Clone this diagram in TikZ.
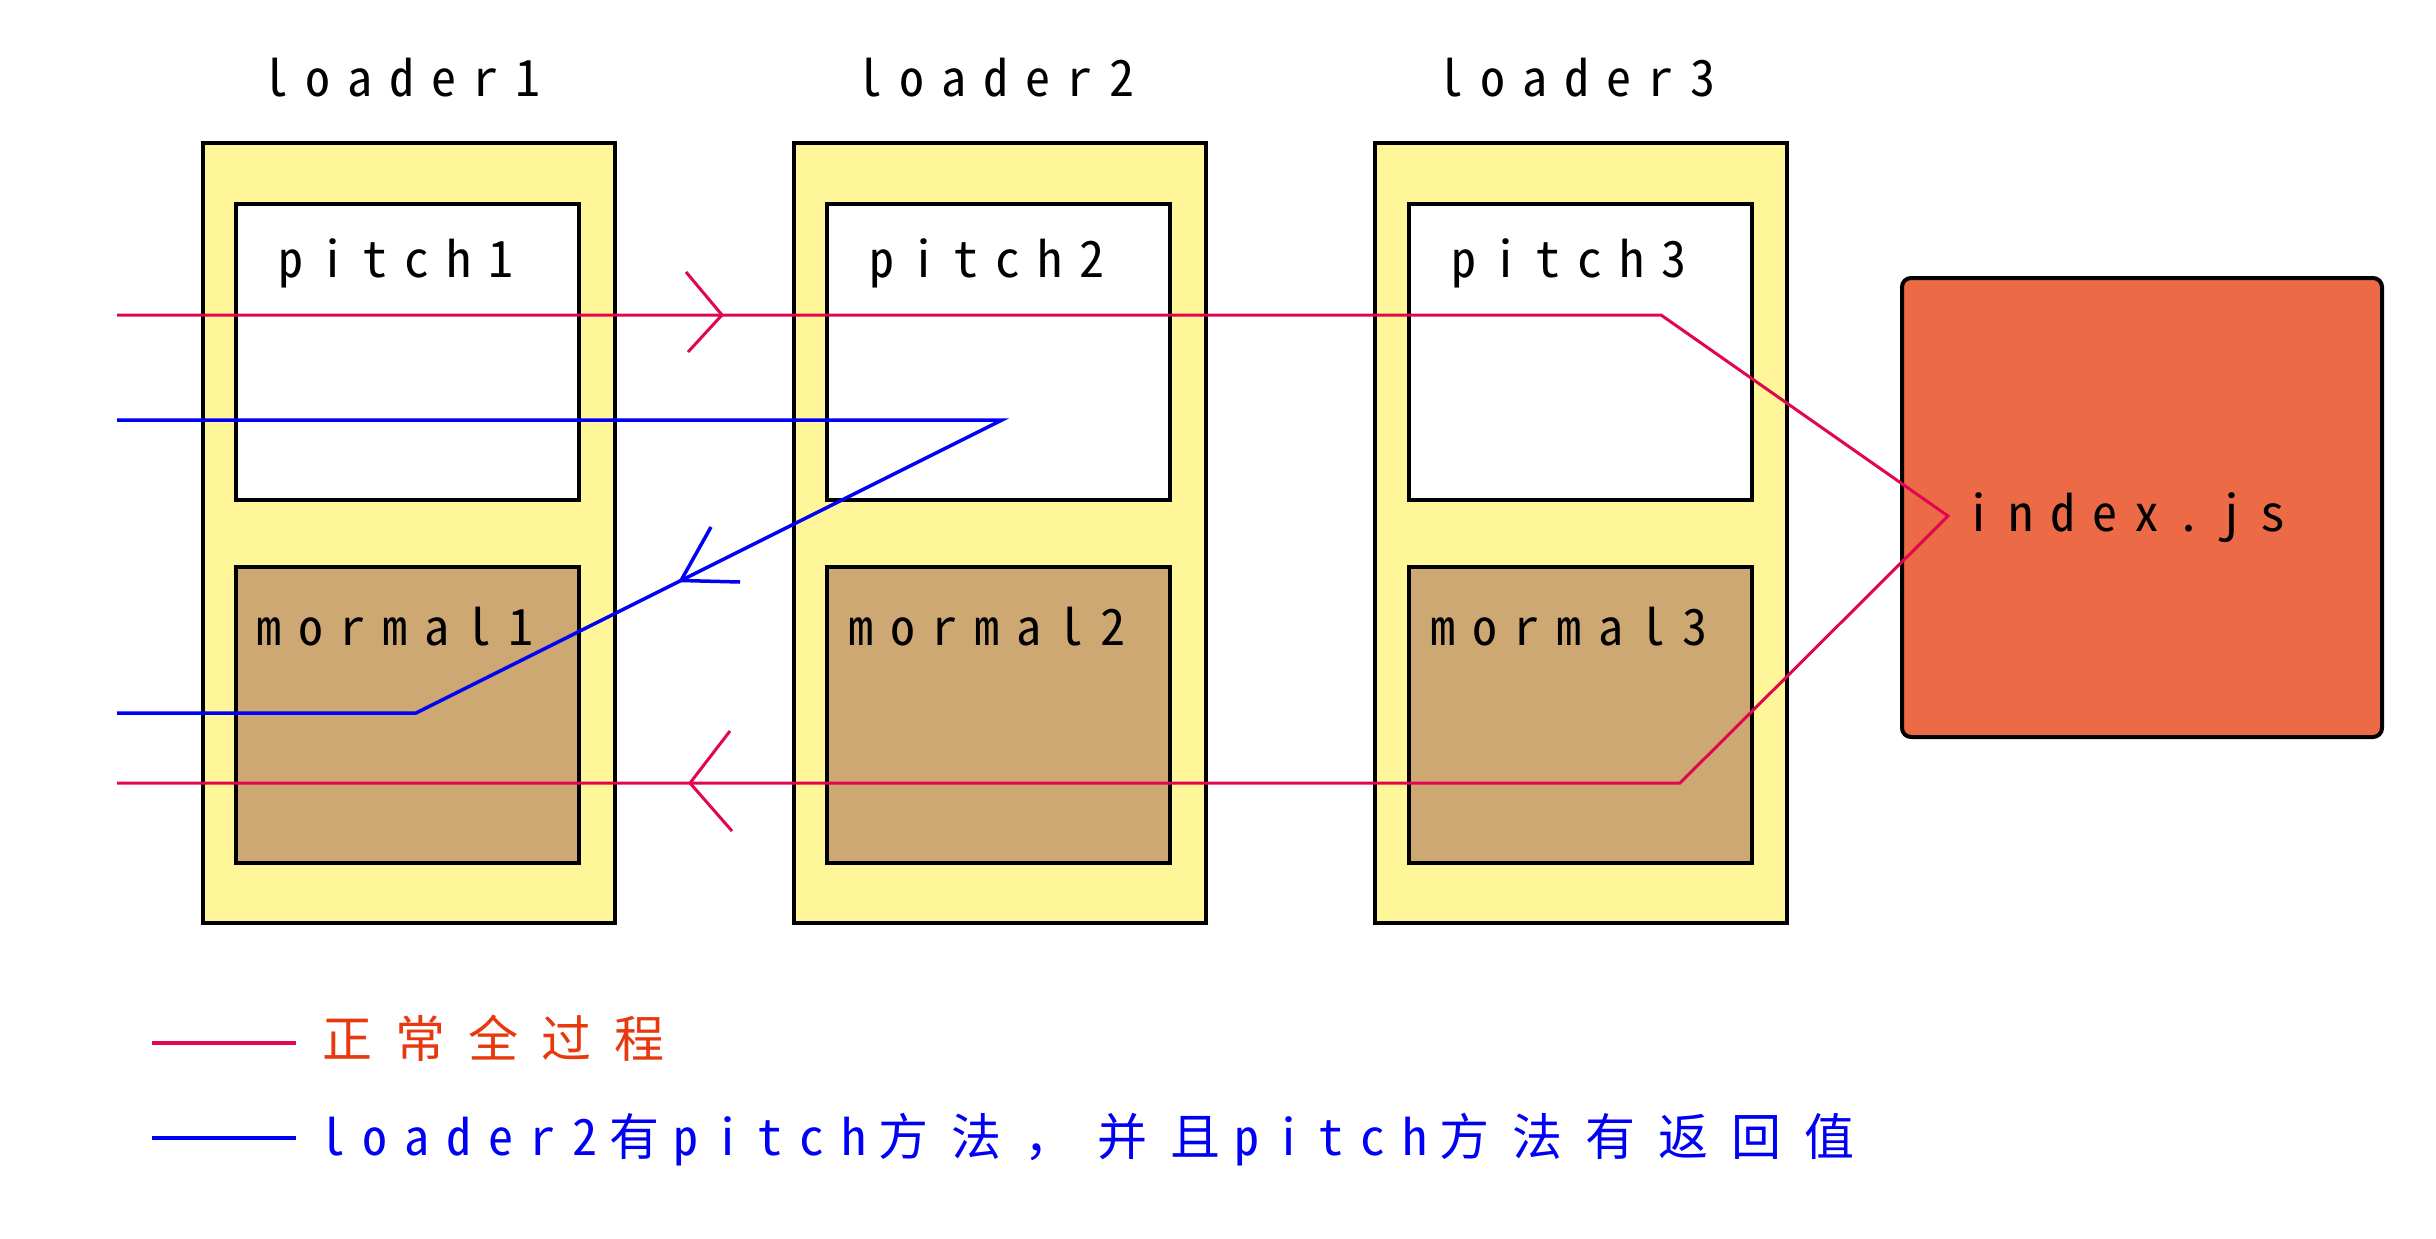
\documentclass[tikz,border=0pt]{standalone}
\usepackage{fontspec}
\newfontfamily\latfont{Noto Sans CJK SC}[RawFeature=+hwid, LetterSpace=34]
\newfontfamily\cjkfont{Noto Sans CJK SC}[LetterSpace=46]
\newcommand{\cj}[1]{{\cjkfont #1}}
\newcommand{\latgap}{\kern12pt}
\newcommand{\cjgap}{\kern14pt}
\definecolor{loaderyellow}{RGB}{255,246,153}
\definecolor{normaltan}{RGB}{205,168,114}
\definecolor{indexorange}{RGB}{236,106,69}
\definecolor{flowred}{RGB}{226,6,80}
\definecolor{flowblue}{RGB}{0,0,245}
\definecolor{legendred}{RGB}{232,56,13}
\tikzset{
  loaderbox/.style={draw=black, line width=4pt, fill=loaderyellow, inner sep=0pt, outer sep=0pt,
    anchor=north west, minimum width=412pt, minimum height=780pt},
  pitchbox/.style={draw=black, line width=4pt, fill=white, inner sep=0pt, outer sep=0pt,
    anchor=north west, minimum width=343pt, minimum height=296pt},
  normalbox/.style={pitchbox, fill=normaltan},
  indexbox/.style={draw=black, line width=4pt, fill=indexorange, inner sep=0pt, outer sep=0pt,
    anchor=north west, minimum width=480pt, minimum height=459pt, rounded corners=9pt},
  lbl/.style={anchor=base west, inner sep=0pt, outer sep=0pt, font=\latfont\fontsize{50}{60}\selectfont},
  redline/.style={draw=flowred, line width=3pt, line join=miter},
  blueline/.style={draw=flowblue, line width=3.5pt, line join=miter},
}
\begin{document}
\begin{tikzpicture}[x=1pt, y=-1pt]
\useasboundingbox[fill=white] (0,0) rectangle (2436,1239);

% loader columns
\node[loaderbox] (L1) at (203,143) {};
\node[loaderbox] (L2) at (794,143) {};
\node[loaderbox] (L3) at (1375,143) {};
\node[pitchbox] (P1) at (236,204) {};
\node[pitchbox] (P2) at (827,204) {};
\node[pitchbox] (P3) at (1409,204) {};
\node[normalbox] (N1) at (236,567) {};
\node[normalbox] (N2) at (827,567) {};
\node[normalbox] (N3) at (1409,567) {};
\node[indexbox] (IDX) at (1902,278) {};

% labels
\node[lbl] (t1) at (263,96) {loader1};
\node[lbl] (t2) at (857,96) {loader2};
\node[lbl] (t3) at (1438,96) {loader3};
\node[lbl] (p1) at (278,277) {pitch1};
\node[lbl] (p2) at (869,277) {pitch2};
\node[lbl] (p3) at (1451,277) {pitch3};
\node[lbl] (n1) at (256,645) {mormal1};
\node[lbl] (n2) at (848,645) {mormal2};
\node[lbl] (n3) at (1430,645) {mormal3};
\node[lbl] (ix) at (1966,531) {index.js};

% red normal flow
\coordinate (r0) at (117,315);
\coordinate (r1) at (1661,315);
\coordinate (r2) at (1948,516);
\coordinate (r3) at (1680,783);
\coordinate (r4) at (117,783);
\draw[redline] (r0) -- (r1) -- (r2) -- (r3) -- (r4);
\coordinate (ta) at (722,315);
\coordinate (ta1) at (686,272);
\coordinate (ta2) at (688,352);
\draw[redline] (ta1) -- (ta) -- (ta2);
\coordinate (ba) at (690,783);
\coordinate (ba1) at (730,731);
\coordinate (ba2) at (732,831);
\draw[redline] (ba1) -- (ba) -- (ba2);

% blue flow
\coordinate (b0) at (117,420);
\coordinate (b1) at (1002,420);
\coordinate (b2) at (416,713);
\coordinate (b3) at (117,713);
\draw[blueline] (b0) -- (b1) -- (b2) -- (b3);
\coordinate (bb) at (681,580.5);
\coordinate (bb1) at (711,527);
\coordinate (bb2) at (740,582);
\draw[blueline] (bb1) -- (bb) -- (bb2);

% legend
\coordinate (lr0) at (152,1043);
\coordinate (lr1) at (296,1043);
\draw[draw=flowred, line width=4.5pt] (lr0) -- (lr1);
\node[lbl, text=legendred] (lgr) at (322,1057) {\cj{正常全过程}};
\coordinate (lb0) at (152,1138);
\coordinate (lb1) at (296,1138);
\draw[draw=flowblue, line width=4.5pt] (lb0) -- (lb1);
\node[lbl, text=flowblue] (lgb) at (320,1155) {loader2\latgap\cj{有}\cjgap pitch\latgap\cj{方法，并且}\cjgap pitch\latgap\cj{方法有返回值}};
\end{tikzpicture}
\end{document}
